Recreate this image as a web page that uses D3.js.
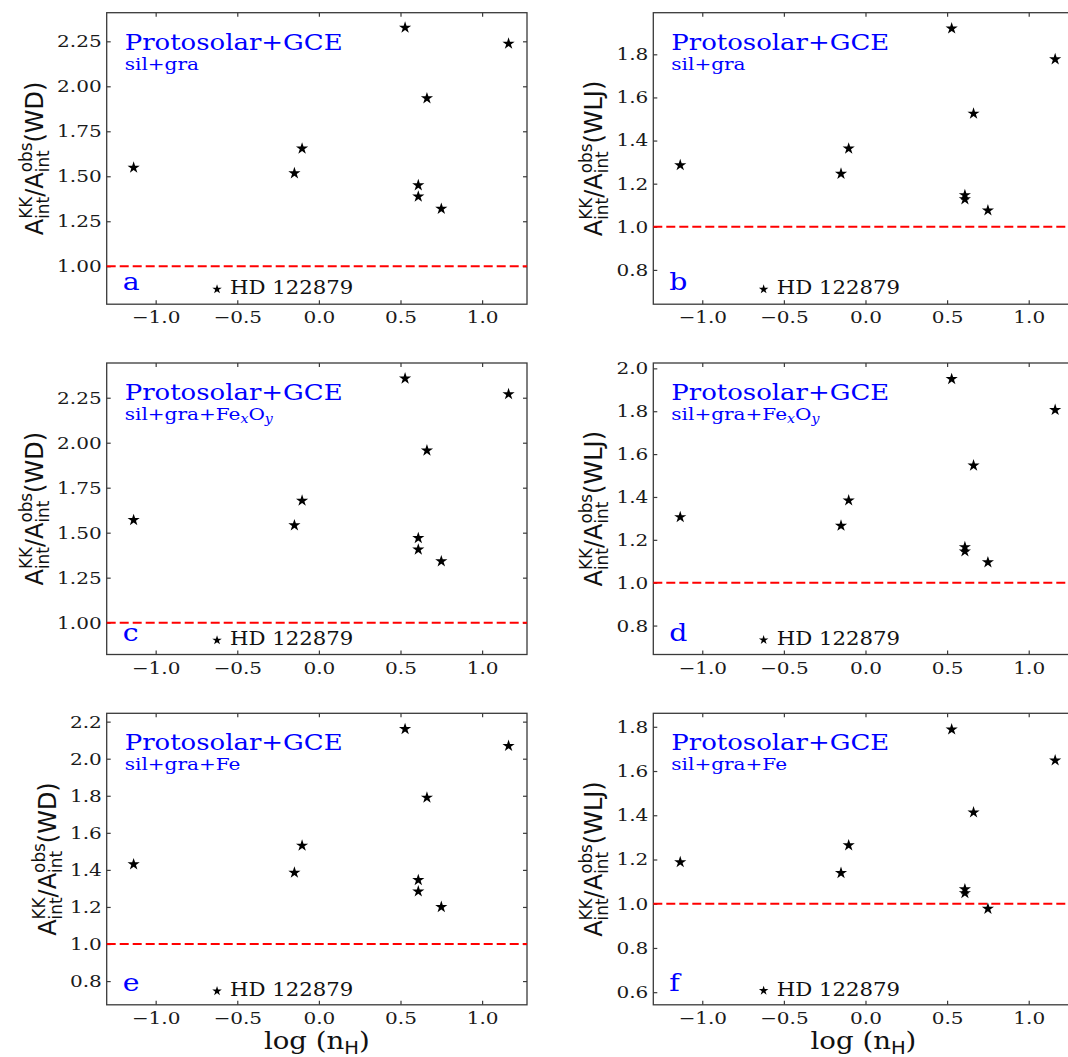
<!DOCTYPE html>
<html>
<head>
<meta charset="utf-8">
<script src="https://cdn.jsdelivr.net/npm/d3@7"></script>
<style>
  body { margin: 0; background: #fff; }
  svg { display: block; }
</style>
</head>
<body>
<svg id="chart" width="1068" height="1057"></svg>
<script>
// x: log(nH) of the sightlines, shared by every panel
var logNH = [-1.135, -0.15, -0.103, 0.528, 0.662, 0.609, 0.609, 0.75, 1.162];

// A_int(KK) / A_int(obs) for each panel
var ratioWDsilgra     = [1.548, 1.517, 1.654, 2.326, 1.933, 1.450, 1.387, 1.319, 2.237];
var ratioWLJsilgra    = [1.286, 1.246, 1.363, 1.920, 1.525, 1.147, 1.128, 1.076, 1.777];
var ratioWDfexoy      = [1.570, 1.541, 1.678, 2.357, 1.957, 1.470, 1.406, 1.341, 2.270];
var ratioWLJfexoy     = [1.306, 1.266, 1.384, 1.950, 1.547, 1.166, 1.146, 1.095, 1.806];
var ratioWDfe         = [1.430, 1.385, 1.531, 2.160, 1.790, 1.345, 1.284, 1.200, 2.069];
var ratioWLJfe        = [1.188, 1.139, 1.264, 1.788, 1.413, 1.065, 1.048, 0.977, 1.648];

// the labelled sightline HD 122879
var hdName = "HD 122879";
var hdLogNH = -0.624;
var hdRatio = [0.872, 0.710, 0.902, 0.733, 0.746, 0.607];

var panelLetters = ["a", "b", "c", "d", "e", "f"];
var extLaws = ["WD", "WLJ", "WD", "WLJ", "WD", "WLJ"];
var dustModels = ["silgra", "silgra", "fexoy", "fexoy", "fe", "fe"];

var xTicks = [-1.0, -0.5, 0.0, 0.5, 1.0];
var xLimits = [-1.30, 1.275];
var yTicks = [
    [1.00, 1.25, 1.50, 1.75, 2.00, 2.25],
    [0.8, 1.0, 1.2, 1.4, 1.6, 1.8],
    [1.00, 1.25, 1.50, 1.75, 2.00, 2.25],
    [0.8, 1.0, 1.2, 1.4, 1.6, 1.8, 2.0],
    [0.8, 1.0, 1.2, 1.4, 1.6, 1.8, 2.0, 2.2],
    [0.6, 0.8, 1.0, 1.2, 1.4, 1.6, 1.8]
];
var yLimits = [[0.789, 2.409], [0.641, 1.993], [0.823, 2.443], [0.665, 2.025], [0.672, 2.245], [0.543, 1.861]];
var yFormats = [".2f", ".1f", ".2f", ".1f", ".1f", ".1f"];

var series = [ratioWDsilgra, ratioWLJsilgra, ratioWDfexoy, ratioWLJfexoy, ratioWDfe, ratioWLJfe];

// layout
var colLeft = [106.7, 653.3],
    rowTop = [12.7, 363, 713.3],
    pw = 420.3,
    ph = 291.5;

var SERIF = "DejaVu Serif",
    SANS = "DejaVu Sans",
    WIDE = 1.18,      // the original serif face is wider than DejaVu Serif
    blue = "#0000ff",
    frameCol = "#3a3a3a";

var svg = d3.select("#chart");
svg.append("rect").attr("width", 1068).attr("height", 1057).attr("fill", "#fff");

function wideText(g, x, y, size) {
    return g.append("text")
        .attr("transform", "translate(" + x + "," + y + ") scale(" + WIDE + ",1)")
        .style("font-family", SERIF)
        .style("font-size", size + "px");
}

function drawPanel(i) {
    var left = colLeft[i % 2], top = rowTop[Math.floor(i / 2)];
    var g = svg.append("g").attr("transform", "translate(" + left + "," + top + ")");

    var x = d3.scaleLinear().domain(xLimits).range([0, pw]);
    var y = d3.scaleLinear().domain(yLimits[i]).range([ph, 0]);

    // axes, ticks pointing inwards on all four sides
    var yAxis = g.append("g")
        .call(d3.axisLeft(y).tickValues(yTicks[i]).tickFormat(d3.format(yFormats[i]))
            .tickSize(-4).tickPadding(4.2));
    var xAxis = g.append("g").attr("transform", "translate(0," + ph + ")")
        .call(d3.axisBottom(x).tickValues(xTicks).tickFormat(d3.format(".1f"))
            .tickSize(-4).tickPadding(7));
    g.append("g").attr("transform", "translate(" + pw + ",0)")
        .call(d3.axisRight(y).tickValues(yTicks[i]).tickFormat("").tickSize(-4));
    g.append("g")
        .call(d3.axisTop(x).tickValues(xTicks).tickFormat("").tickSize(-4));

    g.selectAll(".domain").remove();
    g.selectAll(".tick line").attr("stroke", frameCol).attr("stroke-width", 1.2);
    g.selectAll(".tick text")
        .style("font-family", SERIF)
        .style("font-size", "17px")
        .attr("fill", "#1a1a1a");
    yAxis.selectAll(".tick text").attr("transform", "scale(" + WIDE + ",1)");
    xAxis.selectAll(".tick text").attr("transform", "scale(" + WIDE + ",1)");

    // frame
    g.append("rect").attr("width", pw).attr("height", ph)
        .attr("fill", "none").attr("stroke", frameCol).attr("stroke-width", 1.3);

    // reference line at ratio = 1
    g.append("line")
        .attr("x1", 0).attr("x2", pw)
        .attr("y1", y(1)).attr("y2", y(1))
        .attr("stroke", "#ff0000").attr("stroke-width", 2)
        .attr("stroke-dasharray", "9,4");

    // stars
    var star = d3.symbol().type(d3.symbolStar);
    g.selectAll(".pt").data(series[i]).enter().append("path")
        .attr("class", "pt")
        .attr("d", star.size(46)())
        .attr("transform", function(d, k) { return "translate(" + x(logNH[k]) + "," + y(d) + ")"; })
        .attr("fill", "#000");

    var hx = x(hdLogNH), hy = y(hdRatio[i]);
    g.append("path")
        .attr("d", star.size(28)())
        .attr("transform", "translate(" + hx + "," + hy + ")")
        .attr("fill", "#000");
    wideText(g, hx + 13, hy + 5, 18).attr("fill", "#111").text(hdName);

    // model text
    wideText(g, 18, 37, 22).attr("fill", blue).text("Protosolar+GCE");
    var mt = wideText(g, 18, 57, 17).attr("fill", blue);
    if (dustModels[i] === "silgra") {
        mt.text("sil+gra");
    } else if (dustModels[i] === "fe") {
        mt.text("sil+gra+Fe");
    } else {
        mt.append("tspan").text("sil+gra+Fe");
        mt.append("tspan").attr("font-style", "italic").attr("font-size", "12px").attr("dy", 3).text("x");
        mt.append("tspan").attr("dy", -3).text("O");
        mt.append("tspan").attr("font-style", "italic").attr("font-size", "12px").attr("dy", 3).text("y");
    }

    // panel letter
    wideText(g, 16, ph - 14, 24).attr("fill", blue).text(panelLetters[i]);

    // y label A_int^KK / A_int^obs (law)
    var bb = yAxis.node().getBBox();
    var fs = 24, sm = 16.8;
    var t = g.append("text")
        .attr("transform", "translate(" + (bb.x - 14) + "," + (ph / 2) + ") rotate(-90)")
        .attr("text-anchor", "middle")
        .style("font-family", SANS)
        .style("font-size", fs + "px")
        .attr("fill", "#111");
    function supsub(sup) {
        var a = t.append("tspan").attr("font-size", sm).attr("dy", -0.45 * fs).text(sup);
        var w1 = a.node().getComputedTextLength();
        var b = t.append("tspan").attr("font-size", sm).attr("dx", -w1).attr("dy", 0.45 * fs + 0.24 * fs).text("int");
        var w2 = b.node().getComputedTextLength();
        return Math.max(w1 - w2, 0);
    }
    t.append("tspan").text("A");
    var extra = supsub("KK");
    t.append("tspan").attr("dx", extra).attr("dy", -0.24 * fs).text("/A");
    extra = supsub("obs");
    t.append("tspan").attr("dx", extra).attr("dy", -0.24 * fs).text("(" + extLaws[i] + ")");

    // x label on the bottom row
    if (i >= 4) {
        var xl = g.append("text")
            .attr("transform", "translate(" + (pw / 2) + "," + (ph + 44) + ") scale(1.15,1)")
            .attr("text-anchor", "middle")
            .style("font-family", SERIF)
            .style("font-size", "24px")
            .attr("fill", "#111");
        xl.append("tspan").text("log (n");
        xl.append("tspan").style("font-family", SANS).attr("font-size", 17).attr("dy", 5).text("H");
        xl.append("tspan").attr("dy", -5).text(")");
    }
}

for (var i = 0; i < 6; i++) drawPanel(i);
</script>
</body>
</html>
